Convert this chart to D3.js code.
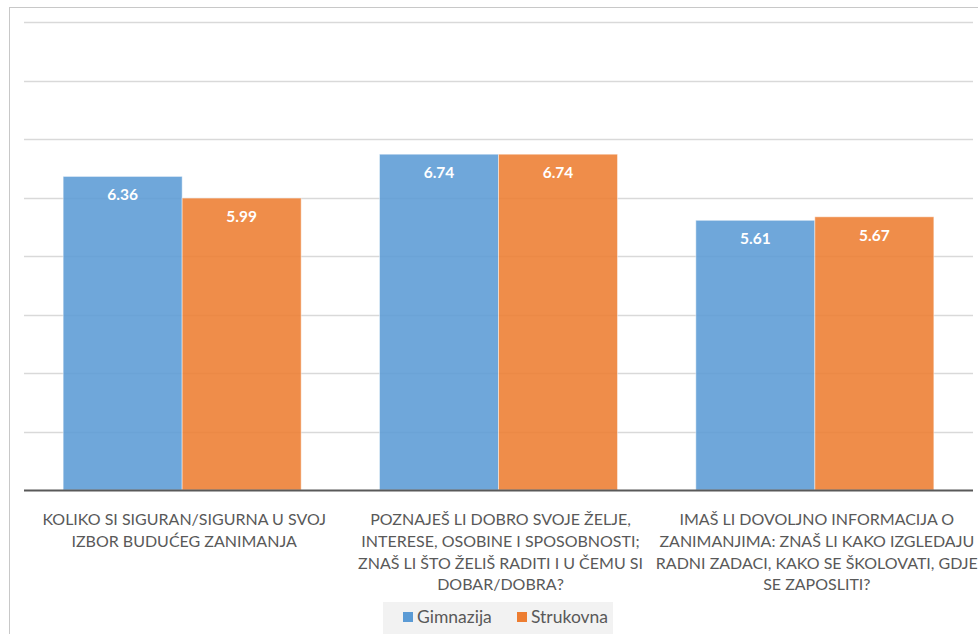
<!DOCTYPE html>
<html>
<head>
<meta charset="utf-8">
<script src="https://cdn.jsdelivr.net/npm/d3@7"></script>
<style>
  html, body { margin: 0; padding: 0; background: #fff; }
  svg { display: block; font-family: Lato, "Open Sans", sans-serif; }
</style>
</head>
<body>
<svg id="chart" width="978" height="634"></svg>
<script>
const categories = [
  ["KOLIKO SI SIGURAN/SIGURNA U SVOJ", "IZBOR BUDUĆEG ZANIMANJA"],
  ["POZNAJEŠ LI DOBRO SVOJE ŽELJE,", "INTERESE, OSOBINE I SPOSOBNOSTI;", "ZNAŠ LI ŠTO ŽELIŠ RADITI I U ČEMU SI", "DOBAR/DOBRA?"],
  ["IMAŠ LI DOVOLJNO INFORMACIJA O", "ZANIMANJIMA: ZNAŠ LI KAKO IZGLEDAJU", "RADNI ZADACI, KAKO SE ŠKOLOVATI, GDJE", "SE ZAPOSLITI?"]
];
const seriesNames = ["Gimnazija", "Strukovna"];
const gimnazija = [6.36, 6.74, 5.61];
const strukovna = [5.99, 6.74, 5.67];
const yTicks = [1, 2, 3, 4, 5, 6, 7, 8, 9];
const colors = ["#5B9BD5", "#ED7D31"];

const svg = d3.select("#chart");
const catIdx = categories.map((c, i) => i);
const series = [gimnazija, strukovna];

const x = d3.scaleBand().domain(catIdx).range([24, 973]).paddingInner(0.2476).paddingOuter(0.1238);
const xs = d3.scaleBand().domain(seriesNames).range([0, x.bandwidth()]);
const y = d3.scaleLinear().domain([1, 9]).range([490, 22]);

// outer chart border
svg.append("rect").attr("x", 9.5).attr("y", 7.5).attr("width", 1000).attr("height", 700)
  .attr("fill", "none").attr("stroke", "#c8c8c8").attr("stroke-width", 1);

// gridlines
svg.append("g").selectAll("line").data(yTicks.slice(1)).join("line")
  .attr("x1", 24).attr("x2", 973)
  .attr("y1", d => Math.round(y(d)) + 0.5).attr("y2", d => Math.round(y(d)) + 0.5)
  .attr("stroke", "#d9d9d9").attr("stroke-width", 1.3);

// bars
const groups = svg.append("g").selectAll("g").data(catIdx).join("g")
  .attr("transform", i => `translate(${x(i)},0)`);
groups.selectAll("rect").data(i => seriesNames.map((s, k) => ({ s, k, v: series[k][i] }))).join("rect")
  .attr("x", d => xs(d.s)).attr("width", xs.bandwidth())
  .attr("y", d => y(d.v)).attr("height", d => y(1) - y(d.v))
  .attr("fill", d => colors[d.k]).attr("fill-opacity", 0.88)
  .attr("stroke", "#ffffff").attr("stroke-opacity", 0.45).attr("stroke-width", 1);

groups.selectAll("text").data(i => seriesNames.map((s, k) => ({ s, k, v: series[k][i] }))).join("text")
  .attr("x", d => xs(d.s) + xs.bandwidth() / 2)
  .attr("y", d => y(d.v) + 24)
  .attr("text-anchor", "middle")
  .attr("fill", "#ffffff").attr("font-weight", "bold").attr("font-size", "15.5px")
  .text(d => d.v.toFixed(2));

// baseline axis
svg.append("line").attr("x1", 24).attr("x2", 973).attr("y1", y(1) + 0.5).attr("y2", y(1) + 0.5)
  .attr("stroke", "#595959").attr("stroke-width", 2);

// category labels
const lab = svg.append("g").selectAll("text").data(catIdx).join("text")
  .attr("text-anchor", "middle").attr("fill", "#595959").attr("font-size", "16px");
lab.each(function (i) {
  const t = d3.select(this);
  categories[i].forEach((line, j) => {
    t.append("tspan").attr("x", x(i) + x.bandwidth() / 2 + 2).attr("y", 525 + j * 21.8).text(line);
  });
});

// legend
const leg = svg.append("g");
leg.append("rect").attr("x", 383).attr("y", 602).attr("width", 230).attr("height", 32).attr("fill", "#f2f2f2");
const legX = [403, 517];
seriesNames.forEach((s, k) => {
  leg.append("rect").attr("x", legX[k]).attr("y", 612).attr("width", 10).attr("height", 10).attr("fill", colors[k]);
  leg.append("text").attr("x", legX[k] + 14).attr("y", 623).attr("fill", "#595959").attr("font-size", "17.5px").text(s);
});
</script>
</body>
</html>
